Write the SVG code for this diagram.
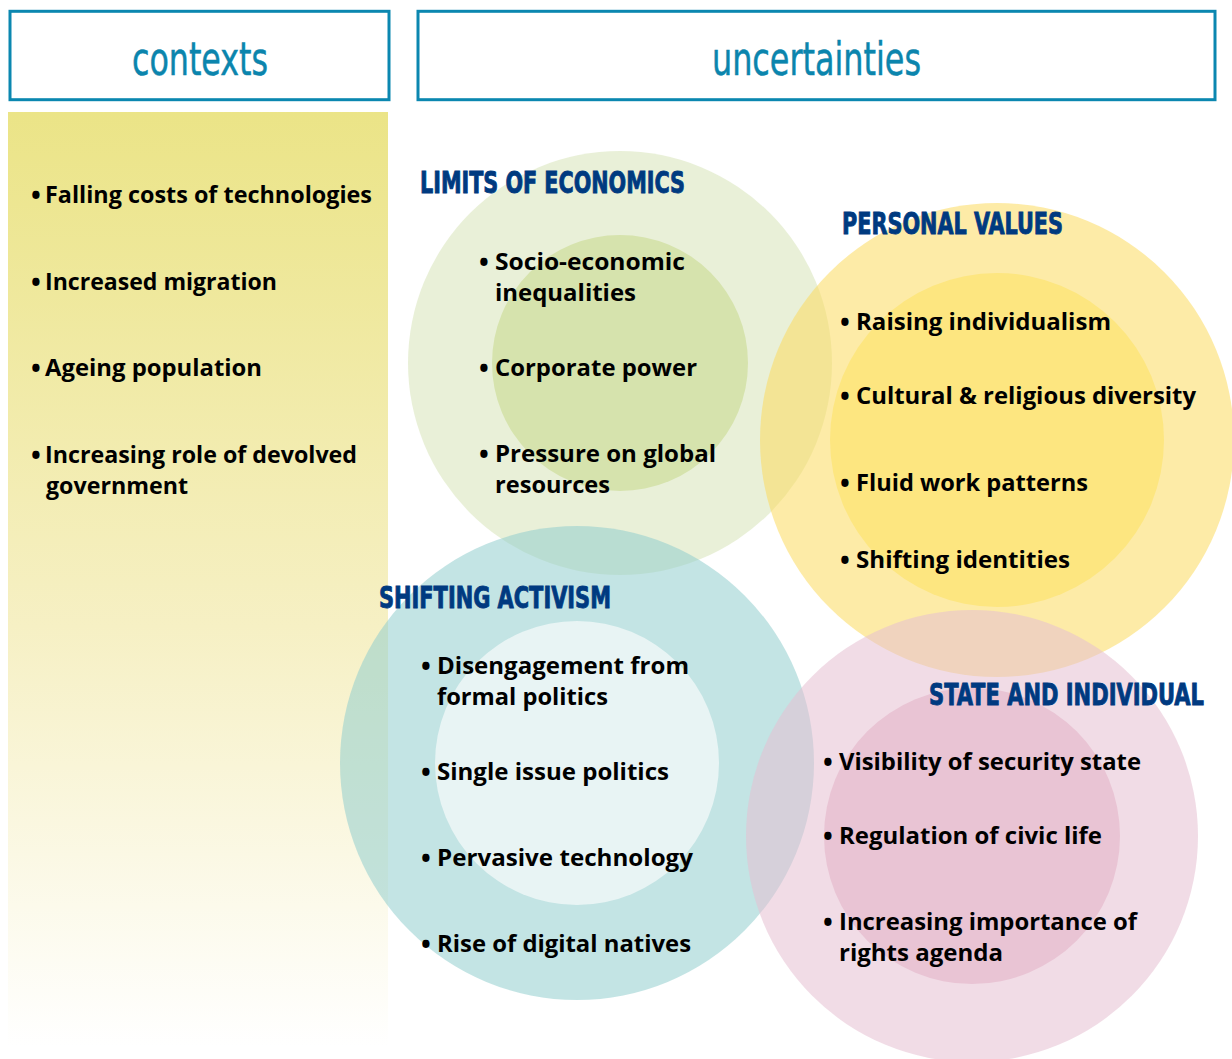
<svg xmlns="http://www.w3.org/2000/svg" width="1232" height="1059" viewBox="0 0 1232 1059">
<defs>
<linearGradient id="panelGrad" x1="0" y1="0" x2="0" y2="1">
<stop offset="0" stop-color="#ebe487"/>
<stop offset="0.55" stop-color="#f6f0c4"/>
<stop offset="1" stop-color="#ffffff"/>
</linearGradient>
<style>
.hdr{fill:#ffffff;stroke:#0b87b0;stroke-width:3}
.hdrt{font-family:"Liberation Sans Narrow","DejaVu Sans Condensed","Liberation Sans",sans-serif;font-size:46px;fill:#0b85ad;stroke:#0b85ad;stroke-width:0.5}
.ttl{font-family:"Liberation Sans Narrow","DejaVu Sans Condensed","Liberation Sans",sans-serif;font-weight:bold;font-size:31px;fill:#003a80;stroke:#003a80;stroke-width:0.9}
.itm{font-family:"Open Sans","Noto Sans","Liberation Sans",sans-serif;font-weight:bold;font-size:23px;fill:#000000}
.bul{font-family:"Open Sans","Noto Sans","Liberation Sans",sans-serif;font-weight:bold;font-size:26px;fill:#000000}
.out{fill-opacity:0.55}
</style>
</defs>
<rect width="1232" height="1059" fill="#ffffff"/>

<g id="contexts-header">
<rect class="hdr" x="10" y="11.3" width="379" height="88.4"/>
<text class="hdrt" x="132" y="75" textLength="136" lengthAdjust="spacingAndGlyphs">contexts</text>
</g>
<g id="uncertainties-header">
<rect class="hdr" x="418" y="11.3" width="797" height="88.4"/>
<text class="hdrt" x="712" y="75" textLength="209" lengthAdjust="spacingAndGlyphs">uncertainties</text>
</g>

<g id="contexts-panel">
<rect x="8" y="112" width="380" height="935" fill="url(#panelGrad)"/>
<text class="bul" x="31" y="205">•</text>
<text class="itm" x="45" y="203" textLength="327" lengthAdjust="spacingAndGlyphs">Falling costs of technologies</text>
<text class="bul" x="31" y="292">•</text>
<text class="itm" x="45" y="290" textLength="232" lengthAdjust="spacingAndGlyphs">Increased migration</text>
<text class="bul" x="31" y="378">•</text>
<text class="itm" x="45" y="376" textLength="217" lengthAdjust="spacingAndGlyphs">Ageing population</text>
<text class="bul" x="31" y="465">•</text>
<text class="itm" x="45" y="463" textLength="312" lengthAdjust="spacingAndGlyphs">Increasing role of devolved</text>
<text class="itm" x="46" y="494" textLength="142" lengthAdjust="spacingAndGlyphs">government</text>
</g>

<g id="limits-of-economics">
<circle class="out" cx="620" cy="363" r="212" fill="#d7e4b8"/>
<circle cx="620" cy="363" r="128" fill="#d6e3ad"/>
<text class="ttl" x="420" y="193" textLength="265" lengthAdjust="spacingAndGlyphs">LIMITS OF ECONOMICS</text>
<text class="bul" x="479" y="272">•</text>
<text class="itm" x="495" y="270" textLength="190" lengthAdjust="spacingAndGlyphs">Socio-economic</text>
<text class="itm" x="495" y="301" textLength="141" lengthAdjust="spacingAndGlyphs">inequalities</text>
<text class="bul" x="479" y="378">•</text>
<text class="itm" x="495" y="376" textLength="202" lengthAdjust="spacingAndGlyphs">Corporate power</text>
<text class="bul" x="479" y="464">•</text>
<text class="itm" x="495" y="462" textLength="221" lengthAdjust="spacingAndGlyphs">Pressure on global</text>
<text class="itm" x="495" y="493" textLength="115" lengthAdjust="spacingAndGlyphs">resources</text>
</g>

<g id="personal-values">
<circle class="out" cx="997" cy="440" r="237" fill="#fbdb5f"/>
<circle cx="997" cy="440" r="167" fill="#fde680"/>
<text class="ttl" x="842" y="234" textLength="221" lengthAdjust="spacingAndGlyphs">PERSONAL VALUES</text>
<text class="bul" x="840" y="332">•</text>
<text class="itm" x="856" y="330" textLength="255" lengthAdjust="spacingAndGlyphs">Raising individualism</text>
<text class="bul" x="840" y="406">•</text>
<text class="itm" x="856" y="404" textLength="340" lengthAdjust="spacingAndGlyphs">Cultural &amp; religious diversity</text>
<text class="bul" x="840" y="493">•</text>
<text class="itm" x="856" y="491" textLength="232" lengthAdjust="spacingAndGlyphs">Fluid work patterns</text>
<text class="bul" x="840" y="570">•</text>
<text class="itm" x="856" y="568" textLength="214" lengthAdjust="spacingAndGlyphs">Shifting identities</text>
</g>

<g id="shifting-activism">
<circle class="out" cx="577" cy="763" r="237" fill="#92cece"/>
<circle cx="577" cy="763" r="142" fill="#e8f4f4"/>
<text class="ttl" x="379" y="608" textLength="232" lengthAdjust="spacingAndGlyphs">SHIFTING ACTIVISM</text>
<text class="bul" x="421" y="676">•</text>
<text class="itm" x="437" y="674" textLength="252" lengthAdjust="spacingAndGlyphs">Disengagement from</text>
<text class="itm" x="437" y="705" textLength="171" lengthAdjust="spacingAndGlyphs">formal politics</text>
<text class="bul" x="421" y="782">•</text>
<text class="itm" x="437" y="780" textLength="232" lengthAdjust="spacingAndGlyphs">Single issue politics</text>
<text class="bul" x="421" y="868">•</text>
<text class="itm" x="437" y="866" textLength="256" lengthAdjust="spacingAndGlyphs">Pervasive technology</text>
<text class="bul" x="421" y="954">•</text>
<text class="itm" x="437" y="952" textLength="254" lengthAdjust="spacingAndGlyphs">Rise of digital natives</text>
</g>

<g id="state-and-individual">
<circle class="out" cx="972" cy="836" r="226" fill="#e5bfd1"/>
<circle cx="972" cy="836" r="148" fill="#e9c4d4"/>
<text class="ttl" x="929" y="705" font-size="29.5" textLength="275" lengthAdjust="spacingAndGlyphs">STATE AND INDIVIDUAL</text>
<text class="bul" x="823" y="772">•</text>
<text class="itm" x="839" y="770" textLength="302" lengthAdjust="spacingAndGlyphs">Visibility of security state</text>
<text class="bul" x="823" y="846">•</text>
<text class="itm" x="839" y="844" textLength="263" lengthAdjust="spacingAndGlyphs">Regulation of civic life</text>
<text class="bul" x="823" y="932">•</text>
<text class="itm" x="839" y="930" textLength="298" lengthAdjust="spacingAndGlyphs">Increasing importance of</text>
<text class="itm" x="839" y="961" textLength="164" lengthAdjust="spacingAndGlyphs">rights agenda</text>
</g>

<g id="connectors"></g>
</svg>
